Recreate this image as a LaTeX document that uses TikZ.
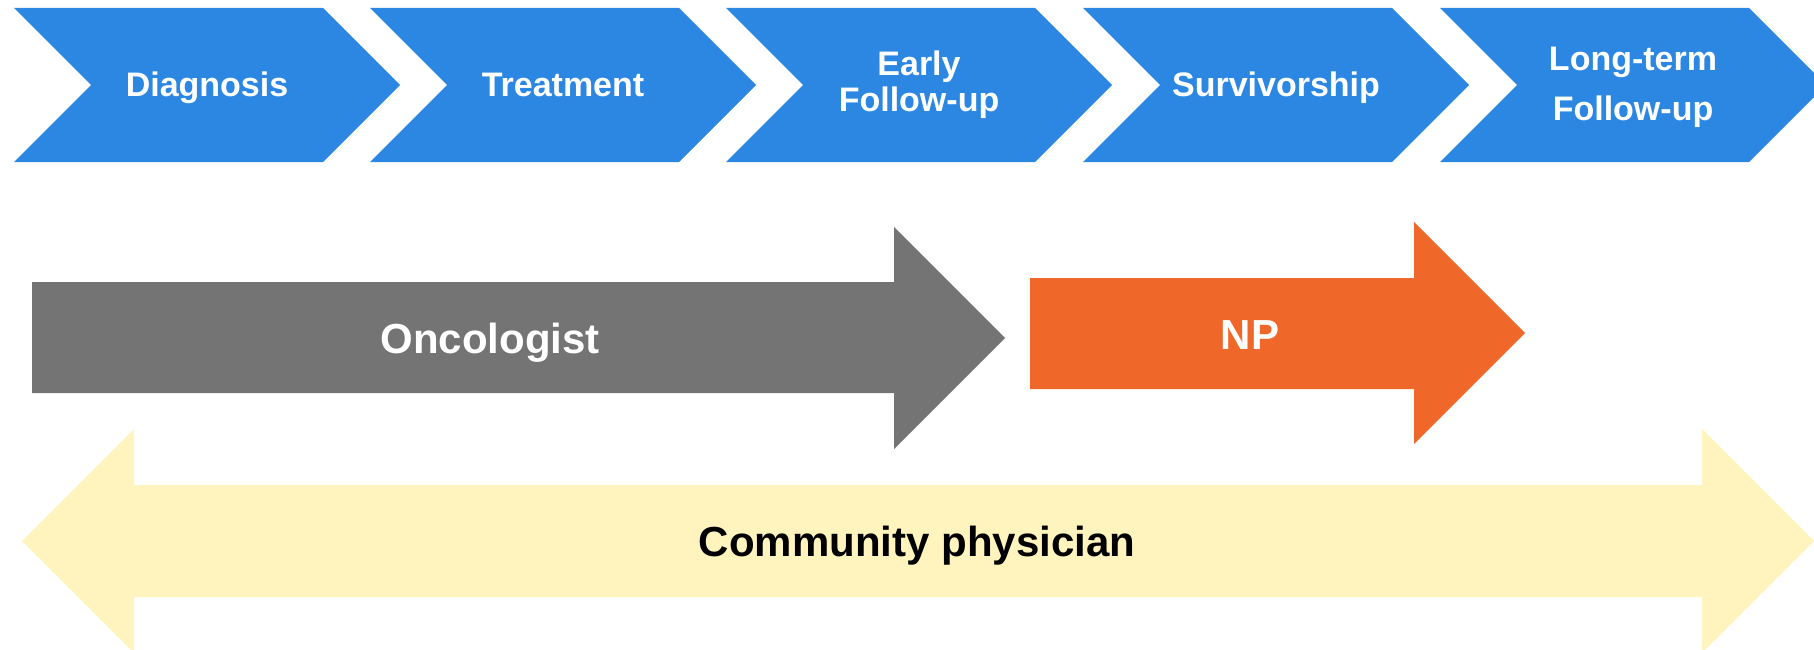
\documentclass[tikz,border=0pt]{standalone}
\usepackage{fontspec}
\setmainfont{Liberation Sans}
\definecolor{chevblue}{RGB}{44,135,227}
\definecolor{oncgray}{RGB}{116,116,116}
\definecolor{nporange}{RGB}{240,103,42}
\definecolor{commyellow}{RGB}{255,244,190}
\tikzset{
  chevlbl/.style={text=white, font=\bfseries\fontsize{34}{36}\selectfont, align=center, inner sep=0pt, anchor=base},
  biglbl/.style={font=\bfseries\fontsize{42}{44}\selectfont, inner sep=0pt, anchor=base},
}
\begin{document}
\begin{tikzpicture}[x=1pt,y=-1pt]
\useasboundingbox (0,0) rectangle (1814,650);
\clip (0,0) rectangle (1814,650);
% chevrons
\foreach \x in {14,370,726,1083,1440}{
  \fill[chevblue] (\x,8) -- (\x+309,8) -- (\x+386,85) -- (\x+309,162) -- (\x,162) -- (\x+77,85) -- cycle;
}
\node[chevlbl] (diag) at (207,97) {Diagnosis};
\node[chevlbl] (treat) at (563,97) {Treatment};
\node[chevlbl] (early) at (919,112) {Early\\Follow-up};
\node[chevlbl] (surv) at (1276,97) {Survivorship};
\node[chevlbl, font=\bfseries\fontsize{34}{50}\selectfont] (long) at (1633,121) {Long-term\\Follow-up};
% community physician double arrow
\fill[commyellow] (22,541) -- (134,429) -- (134,485) -- (1702,485) -- (1702,429) -- (1814,541)
  -- (1702,653) -- (1702,597) -- (134,597) -- (134,653) -- cycle;
\node[biglbl, text=black] (comm) at (917,556) {Community physician};
% oncologist arrow
\fill[oncgray] (32,282) -- (894,282) -- (894,227) -- (1005,338) -- (894,449) -- (894,393) -- (32,393) -- cycle;
\node[biglbl, text=white] (onc) at (490,353) {Oncologist};
% NP arrow
\fill[nporange] (1030,278) -- (1414,278) -- (1414,222) -- (1525,333) -- (1414,444) -- (1414,389) -- (1030,389) -- cycle;
\node[biglbl, text=white] (np) at (1250,349) {NP};
\end{tikzpicture}
\end{document}
